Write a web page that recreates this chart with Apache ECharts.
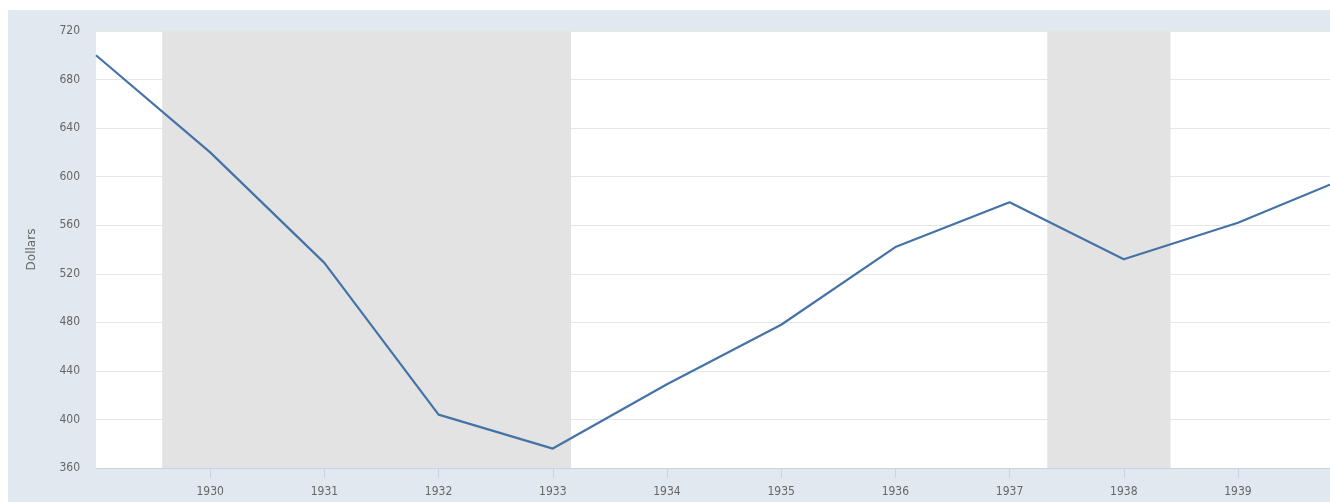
<!DOCTYPE html>
<html>
<head>
<meta charset="utf-8">
<script src="https://cdn.jsdelivr.net/npm/echarts@6/dist/echarts.min.js"></script>
<style>html,body{margin:0;padding:0;background:#fff;}#chart{width:1330px;height:502px;}</style>
</head>
<body>
<div id="chart"></div>
<script>
// Data (year, dollars)
const years = [1929, 1930, 1931, 1932, 1933, 1934, 1935, 1936, 1937, 1938, 1939, 1940];
const values = [700, 620, 529, 404, 376, 429, 478, 542, 579, 532, 562, 601];
// Recession periods (fractional years)
const recessionStarts = [1929.58, 1937.33];
const recessionEnds = [1933.16, 1938.41];
const xTicks = [1930, 1931, 1932, 1933, 1934, 1935, 1936, 1937, 1938, 1939];
const yTicks = [360, 400, 440, 480, 520, 560, 600, 640, 680, 720];
const yAxisName = 'Dollars';

const chart = echarts.init(document.getElementById('chart'));
const seriesData = years.map((y, i) => [y, values[i]]);
const areas = recessionStarts.map((s, i) => [{ xAxis: s }, { xAxis: recessionEnds[i] }]);

chart.setOption({
  animation: false,
  backgroundColor: '#fff',
  graphic: [{
    type: 'rect', z: -10, silent: true,
    shape: { x: 8, y: 10, width: 1322, height: 492 },
    style: { fill: '#e1e8f0' }
  }],
  grid: { left: 96, top: 31, right: 0, bottom: 34, show: true, backgroundColor: '#ffffff', borderWidth: 0 },
  xAxis: {
    type: 'value', min: 1929, max: 1939.806, interval: 1,
    axisLine: { show: true, lineStyle: { color: '#c6d4e6', width: 1 } },
    axisTick: { show: true, length: 10, customValues: xTicks, lineStyle: { color: '#c6d4e6' } },
    axisLabel: {
      color: '#666', fontSize: 12, fontFamily: 'Liberation Sans Narrow, DejaVu Sans Condensed, sans-serif', margin: 18,
      customValues: xTicks,
      formatter: v => String(v)
    },
    splitLine: { show: false }
  },
  yAxis: {
    type: 'value', min: yTicks[0], max: yTicks[yTicks.length - 1], interval: 40,
    name: yAxisName, nameLocation: 'middle', nameGap: 58, nameRotate: 90,
    nameTextStyle: { color: '#666', fontSize: 12, fontFamily: 'DejaVu Sans, sans-serif' },
    axisLine: { show: false }, axisTick: { show: false },
    axisLabel: { color: '#666', fontSize: 12, fontFamily: 'Liberation Sans Narrow, DejaVu Sans Condensed, sans-serif', margin: 16 },
    splitLine: { show: true, lineStyle: { color: '#e6e6e6', width: 1 } }
  },
  series: [{
    type: 'line', data: seriesData, symbol: 'none', clip: true,
    lineStyle: { color: '#4572a7', width: 2.2 },
    markArea: { silent: true, itemStyle: { color: '#e3e3e3' }, data: areas },
    z: 3
  }]
});
</script>
</body>
</html>
